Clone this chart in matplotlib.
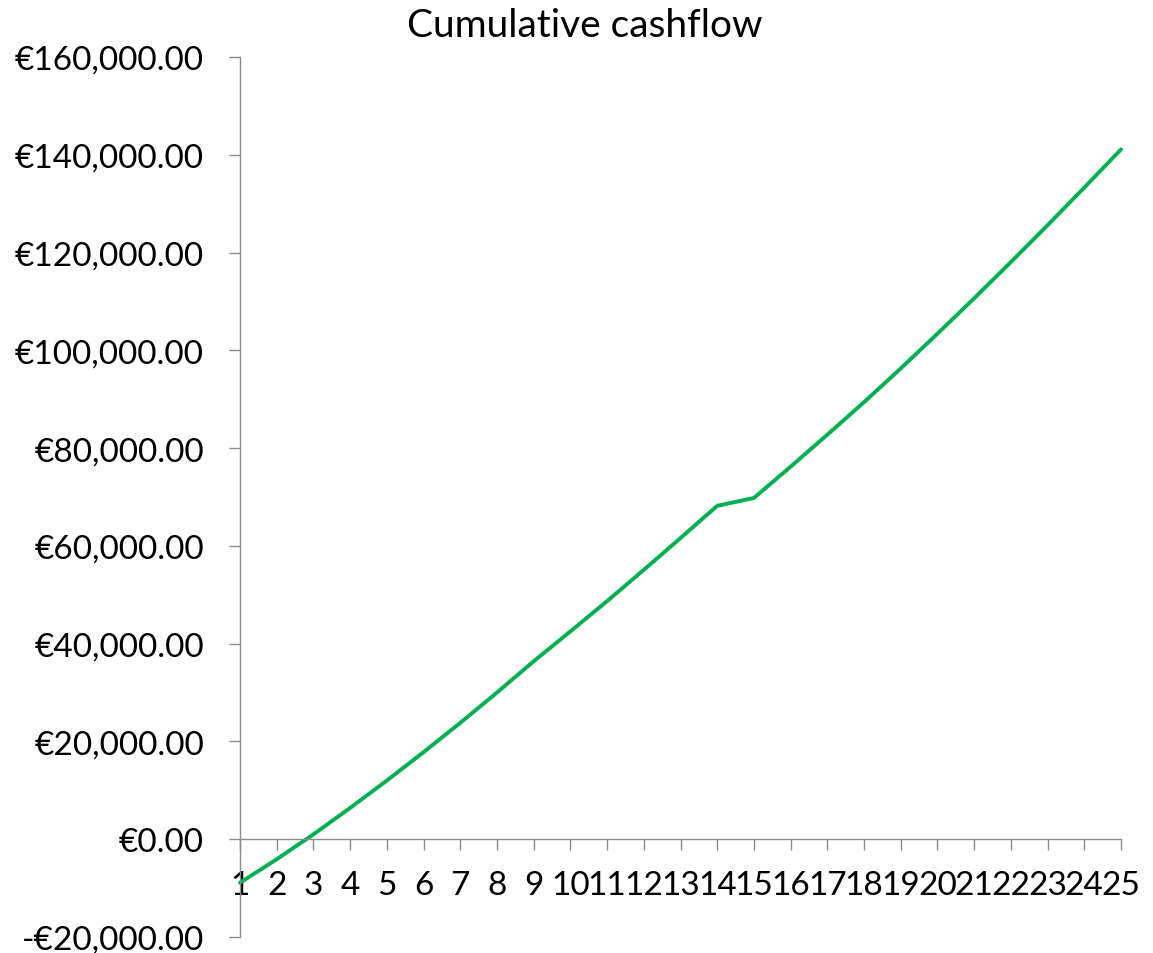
import matplotlib
matplotlib.use("Agg")
import matplotlib.pyplot as plt
from matplotlib.ticker import FuncFormatter, MultipleLocator

# Year index and cumulative cashflow (EUR)
years = list(range(1, 26))
cumulative = [
    -8900, -4100, 1000, 6400, 12000, 17800, 23800, 30000, 36400, 42500,
    48700, 55100, 61600, 68200, 69800, 76200, 82750, 89400, 96300, 103400,
    110650, 118050, 125600, 133300, 141100,
]
title = "Cumulative cashflow"
y_min, y_max, y_step = -20000, 160000, 20000

plt.rcParams["font.family"] = ["Lato", "DejaVu Sans"]

fig = plt.figure(figsize=(11.53, 9.54), dpi=100)
ax = fig.add_axes([240 / 1153, 1 - 938 / 954, (1121 - 240) / 1153, (938 - 58) / 954])

ax.plot(years, cumulative, color="#00B050", lw=2.8, solid_capstyle="round",
        solid_joinstyle="round", clip_on=False)

ax.set_xlim(years[0], years[-1])
ax.set_ylim(y_min, y_max)

axis_gray = "#8C8C8C"
for side in ("top", "right"):
    ax.spines[side].set_visible(False)
ax.spines["left"].set_color(axis_gray)
ax.spines["bottom"].set_color(axis_gray)
ax.spines["left"].set_linewidth(1.0)
ax.spines["bottom"].set_linewidth(1.0)
ax.spines["bottom"].set_position(("data", 0))

ax.yaxis.set_major_locator(MultipleLocator(y_step))


def euro(v, _pos):
    s = "€{:,.2f}".format(abs(v))
    return "-" + s if v < 0 else s


ax.yaxis.set_major_formatter(FuncFormatter(euro))
ax.set_xticks(years)
ax.set_xticklabels([str(y) for y in years])

ax.tick_params(axis="y", direction="out", length=8, width=1.0, color=axis_gray,
               labelsize=24, pad=18)
ax.tick_params(axis="x", direction="out", length=8, width=1.0, color=axis_gray,
               labelsize=24, pad=14)

fig.text(585 / 1153, 1 - 26 / 954, title, ha="center", va="center", fontsize=28)

fig.savefig("out.png", dpi=100, facecolor="white")
